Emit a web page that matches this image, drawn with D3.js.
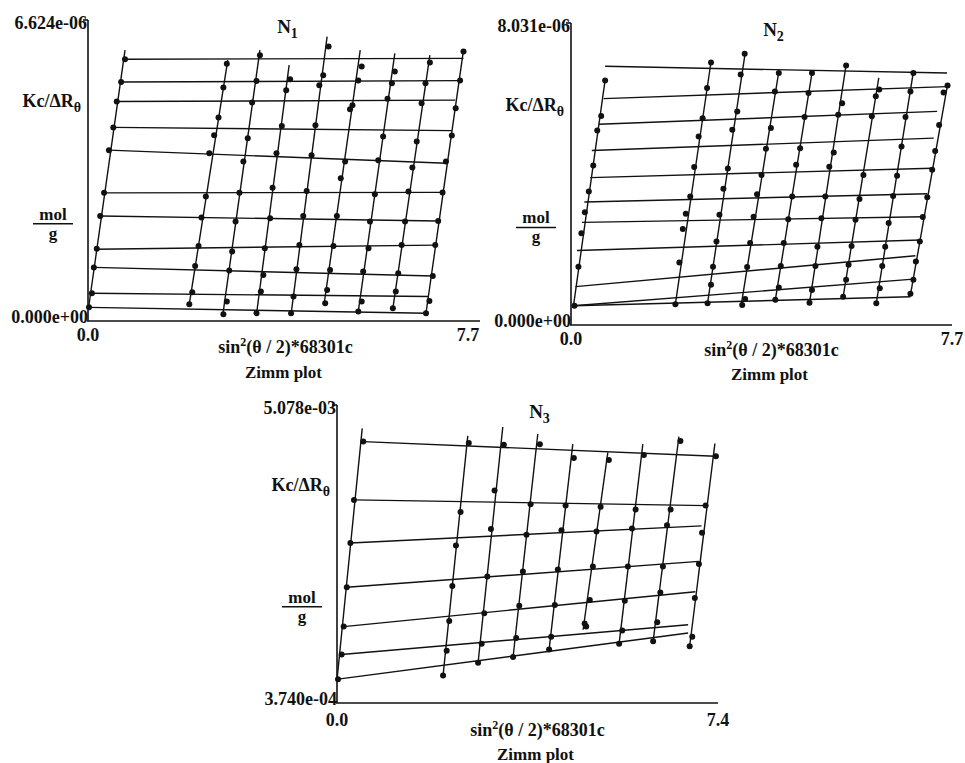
<!DOCTYPE html>
<html>
<head>
<meta charset="utf-8">
<script src="https://cdn.jsdelivr.net/npm/d3@7"></script>
<style>
  body { margin: 0; background: #fff; }
  svg text { font-family: "Liberation Serif", "Times New Roman", serif; font-weight: bold; fill: #111; }
</style>
</head>
<body>
<svg id="chart" width="965" height="763"></svg>
<script>
// ---- N1 (y in units of 1e-6 mol/g) ----
// fitted lines as [x1, y1, x2, y2]
const n1Rows = [
  [0.76, 5.76, 7.71, 5.78], [0.68, 5.26, 7.64, 5.29], [0.59, 4.83, 7.54, 4.86],
  [0.52, 4.26, 7.47, 4.19], [0.43, 3.76, 7.36, 3.47], [0.33, 2.82, 7.30, 2.83],
  [0.25, 2.31, 7.19, 2.20], [0.18, 1.58, 7.13, 1.67], [0.12, 1.18, 7.09, 0.99],
  [0.08, 0.61, 6.99, 0.54], [0.02, 0.30, 6.95, 0.17]
];
const n1Cols = [
  [0.01, 0.28, 0.76, 5.96], [2.08, 0.37, 2.87, 5.74], [2.77, 0.15, 3.53, 5.96],
  [3.46, 0.15, 4.13, 5.63], [4.17, 0.15, 4.91, 6.26], [4.85, 0.39, 5.59, 5.96],
  [5.55, 0.21, 6.30, 5.89], [6.26, 0.28, 7.02, 5.85], [6.94, 0.17, 7.71, 5.96]
];
const n1Points = [
  [0.76, 5.76], [2.85, 5.66], [3.53, 5.85], [4.94, 6.04], [5.62, 5.60], [6.30, 5.49], [7.02, 5.69], [7.71, 5.93],
  [4.83, 5.41], [4.15, 5.32],
  [0.68, 5.26], [2.78, 5.14], [3.46, 5.28], [4.07, 5.08], [4.75, 5.19], [5.55, 5.29], [6.24, 5.23], [6.93, 5.23], [7.64, 5.29],
  [0.59, 4.83], [2.68, 4.48], [3.37, 4.81], [5.43, 4.75], [5.38, 4.66], [6.15, 4.89], [6.85, 4.79], [7.55, 4.68],
  [0.52, 4.26], [2.59, 4.09], [3.28, 4.02], [3.98, 4.29], [4.67, 4.31], [6.06, 4.06], [6.75, 3.95], [7.47, 4.08],
  [0.43, 3.76], [2.49, 3.69], [3.19, 3.51], [3.87, 3.69], [4.59, 3.65], [5.28, 3.51], [5.96, 3.54], [6.66, 3.38], [7.35, 3.51],
  [5.19, 3.14],
  [0.33, 2.82], [2.42, 2.74], [3.11, 2.82], [3.79, 2.93], [4.49, 2.86], [5.89, 2.79], [6.58, 2.85], [7.28, 2.83],
  [0.25, 2.31], [2.33, 2.28], [3.03, 2.19], [3.74, 2.26], [4.42, 2.31], [5.11, 2.31], [5.79, 2.19], [6.51, 2.19], [7.19, 2.20],
  [0.18, 1.59], [2.27, 1.65], [2.96, 1.53], [3.63, 1.60], [4.34, 1.67], [5.04, 1.65], [5.76, 1.60], [6.44, 1.67], [7.13, 1.67],
  [0.12, 1.18], [2.20, 1.21], [2.90, 1.11], [3.60, 1.01], [4.28, 1.14], [4.97, 1.12], [5.65, 1.09], [6.37, 1.05], [7.08, 0.99],
  [0.08, 0.61], [2.14, 0.63], [2.85, 0.43], [3.55, 0.65], [4.22, 0.54], [4.91, 0.68], [5.62, 0.43], [6.32, 0.65], [7.01, 0.44],
  [0.02, 0.30], [2.08, 0.37], [2.78, 0.15], [3.46, 0.17], [4.17, 0.17], [4.87, 0.39], [5.55, 0.21], [6.26, 0.28], [6.94, 0.17]
];

// ---- N2 (y in units of 1e-6 mol/g) ----
const n2Rows = [
  [0.69, 6.88, 7.60, 6.70], [0.66, 6.02, 7.60, 6.34], [0.56, 5.34, 7.40, 5.68],
  [0.42, 4.64, 7.33, 4.97], [0.39, 3.92, 7.30, 4.17], [0.27, 3.27, 7.20, 3.49],
  [0.22, 2.73, 7.13, 2.88], [0.12, 1.98, 7.06, 2.26], [0.09, 1.02, 6.96, 1.84],
  [0.05, 0.51, 6.92, 1.22], [0.05, 0.51, 6.86, 0.75]
];
const n2Cols = [
  [0.05, 0.51, 0.69, 6.52], [2.11, 0.56, 2.83, 7.00], [2.76, 0.58, 3.52, 7.23],
  [3.44, 0.53, 4.20, 6.74], [4.13, 0.67, 4.87, 6.70], [4.82, 0.59, 5.56, 6.92],
  [5.50, 0.75, 6.22, 6.57], [6.17, 0.58, 6.92, 6.74], [6.86, 0.80, 7.61, 6.39]
];
const n2Points = [
  [0.69, 6.50], [0.61, 5.56], [0.53, 5.17], [0.45, 4.24], [0.36, 3.55], [0.28, 3.00], [0.21, 2.44], [0.15, 1.55], [0.07, 0.51],
  [2.83, 6.98], [2.75, 6.30], [2.66, 5.50], [2.58, 5.01], [2.49, 4.20], [2.41, 3.42], [2.32, 2.96], [2.26, 2.55], [2.19, 1.66], [2.11, 0.55],
  [3.51, 7.21], [3.43, 6.66], [3.36, 5.68], [3.26, 5.19], [3.17, 4.16], [3.08, 3.62], [3.00, 2.93], [2.94, 2.22], [2.87, 1.55], [2.83, 1.07], [2.76, 0.58],
  [4.20, 6.70], [4.12, 6.21], [4.04, 5.24], [3.94, 4.69], [3.85, 3.99], [3.76, 3.48], [3.69, 2.88], [3.62, 2.18], [3.56, 1.54], [3.52, 0.69], [3.46, 0.53],
  [4.87, 6.70], [4.80, 6.17], [4.72, 5.53], [4.63, 4.70], [4.55, 4.26], [4.47, 3.42], [4.39, 2.81], [4.30, 2.18], [4.24, 1.57], [4.20, 1.00], [4.13, 0.67],
  [5.56, 6.90], [5.48, 5.90], [5.40, 5.59], [5.31, 4.59], [5.22, 4.21], [5.14, 3.42], [5.06, 2.84], [4.98, 2.08], [4.94, 1.57], [4.87, 0.93], [4.82, 0.59],
  [6.23, 6.26], [6.16, 6.08], [6.08, 5.55], [5.91, 3.99], [5.83, 3.35], [5.75, 2.80], [5.67, 2.10], [5.61, 1.60], [5.56, 1.20], [5.50, 0.75],
  [6.92, 6.70], [6.86, 6.21], [6.76, 5.53], [6.68, 4.75], [6.59, 3.97], [6.51, 3.43], [6.42, 2.71], [6.35, 2.08], [6.29, 1.57], [6.24, 0.98], [6.17, 0.58],
  [7.61, 6.37], [7.53, 6.18], [7.44, 5.32], [7.36, 4.63], [7.30, 4.13], [7.20, 3.40], [7.11, 2.87], [7.05, 2.22], [6.97, 1.69], [6.92, 1.20], [6.86, 0.83]
];

// ---- N3 (y in units of 1e-3 mol/g) ----
const n3Rows = [
  [0.51, 4.50, 7.35, 4.27], [0.33, 3.58, 7.18, 3.49], [0.26, 2.90, 7.08, 3.17],
  [0.19, 2.20, 7.03, 2.61], [0.13, 1.58, 6.96, 2.13], [0.09, 1.14, 6.82, 1.61],
  [0.02, 0.75, 6.82, 1.48]
];
const n3Cols = [
  [0.00, 0.74, 0.49, 4.71], [2.06, 0.81, 2.54, 4.59], [2.74, 1.01, 3.22, 4.73],
  [3.42, 1.10, 3.90, 4.62], [4.12, 1.22, 4.58, 4.46], [4.78, 1.53, 5.26, 4.33],
  [5.48, 1.31, 5.94, 4.46], [6.14, 1.35, 6.64, 4.58], [6.85, 1.27, 7.34, 4.47]
];
const n3Points = [
  [0.51, 4.50], [0.33, 3.58], [0.26, 2.90], [0.19, 2.20], [0.13, 1.58], [0.09, 1.14], [0.02, 0.75],
  [2.56, 4.48], [2.40, 3.39], [2.31, 2.86], [2.24, 2.22], [2.18, 1.67], [2.13, 1.20], [2.06, 0.81],
  [3.24, 4.45], [3.06, 3.73], [2.99, 3.12], [2.92, 2.37], [2.86, 1.79], [2.81, 1.31], [2.74, 1.01],
  [3.94, 4.46], [3.76, 3.51], [3.68, 3.03], [3.61, 2.45], [3.54, 1.91], [3.48, 1.40], [3.42, 1.10],
  [4.60, 4.24], [4.44, 3.49], [4.36, 3.10], [4.29, 2.48], [4.23, 1.92], [4.16, 1.42], [4.12, 1.22],
  [5.28, 4.21], [5.12, 3.47], [5.04, 3.08], [4.97, 2.53], [4.91, 2.00], [4.81, 1.63], [4.84, 1.58],
  [5.96, 4.29], [5.80, 3.43], [5.73, 3.13], [5.65, 2.53], [5.59, 1.99], [5.54, 1.52], [5.48, 1.31],
  [6.67, 4.51], [6.48, 3.43], [6.41, 3.18], [6.33, 2.53], [6.28, 2.12], [6.22, 1.65], [6.14, 1.35],
  [7.36, 4.27], [7.16, 3.49], [7.09, 3.06], [7.03, 2.57], [6.95, 2.03], [6.90, 1.42], [6.85, 1.27]
];

const svg = d3.select('#chart');

const fmtExp = v => d3.format('.3e')(v).replace(/e([+-])(\d)$/, 'e$10$2');
const fmtX = d3.format('.1f');

const panels = [
  { name: 'N', sub: '1', rows: n1Rows, cols: n1Cols, points: n1Points, unit: 1e-6,
    xMax: 7.7, yDomain: [0, 6.624e-6],
    left: 88, top: 20, width: 375, height: 301, axisExtra: 17, endDx: 5,
    tickDy: 20, xTitleDy: 32, zimmDy: 57 },
  { name: 'N', sub: '2', rows: n2Rows, cols: n2Cols, points: n2Points, unit: 1e-6,
    xMax: 7.7, yDomain: [0, 8.031e-6],
    left: 571, top: 23, width: 381, height: 302, axisExtra: 0, endDx: 0,
    tickDy: 20, xTitleDy: 31, zimmDy: 55 },
  { name: 'N', sub: '3', rows: n3Rows, cols: n3Cols, points: n3Points, unit: 1e-3,
    xMax: 7.4, yDomain: [3.740e-4, 5.078e-3],
    left: 337, top: 405, width: 381, height: 298, axisExtra: 0, endDx: 0,
    tickDy: 23, xTitleDy: 33, zimmDy: 57 }
];

function drawZimm(p) {
  const g = svg.append('g').attr('transform', `translate(${p.left},${p.top})`);
  const x = d3.scaleLinear().domain([0, p.xMax]).range([0, p.width]);
  const y = d3.scaleLinear().domain(p.yDomain).range([p.height, 0]);
  const u = p.unit;

  // fitted lines of the Zimm grid
  g.selectAll('line.fit')
    .data(p.rows.concat(p.cols))
    .join('line')
    .attr('class', 'fit')
    .attr('x1', d => x(d[0])).attr('y1', d => y(d[1] * u))
    .attr('x2', d => x(d[2])).attr('y2', d => y(d[3] * u))
    .attr('stroke', '#111')
    .attr('stroke-width', 1.4);

  // measured points
  g.selectAll('circle')
    .data(p.points)
    .join('circle')
    .attr('cx', d => x(d[0]))
    .attr('cy', d => y(d[1] * u))
    .attr('r', 3)
    .attr('fill', '#111');

  // axes
  g.append('line').attr('x1', 0).attr('x2', 0).attr('y1', 0).attr('y2', p.height)
    .attr('stroke', '#111').attr('stroke-width', 1.6);
  g.append('line').attr('x1', -1).attr('x2', p.width + p.axisExtra)
    .attr('y1', p.height).attr('y2', p.height)
    .attr('stroke', '#111').attr('stroke-width', 1.6);
  g.append('line').attr('x1', -5).attr('x2', 0).attr('y1', 0).attr('y2', 0)
    .attr('stroke', '#111').attr('stroke-width', 1.6);

  // y extremes
  g.append('text').attr('x', -1).attr('y', 9).attr('text-anchor', 'end')
    .style('font-size', '18px').text(fmtExp(p.yDomain[1]));
  g.append('text').attr('x', 0).attr('y', p.height + 2).attr('text-anchor', 'end')
    .style('font-size', '18px').text(fmtExp(p.yDomain[0]));

  // x extremes
  g.append('text').attr('x', x(0)).attr('y', p.height + p.tickDy).attr('text-anchor', 'middle')
    .style('font-size', '18px').text(fmtX(0));
  g.append('text').attr('x', x(p.xMax) + p.endDx).attr('y', p.height + p.tickDy).attr('text-anchor', 'middle')
    .style('font-size', '18px').text(fmtX(p.xMax));

  // title
  const t = g.append('text').attr('x', p.width / 2 + 12).attr('y', 13).attr('text-anchor', 'middle')
    .style('font-size', '19px');
  t.append('tspan').text(p.name);
  t.append('tspan').attr('dy', 5).style('font-size', '14px').text(p.sub);

  // y-axis label
  const k = g.append('text').attr('x', -7).attr('y', p.height * 0.29).attr('text-anchor', 'end')
    .style('font-size', '18px');
  k.append('tspan').text('Kc/ΔR');
  k.append('tspan').attr('dy', 5).style('font-size', '14px').text('θ');

  const mx = -35, my = p.height * 0.667;
  g.append('text').attr('x', mx).attr('y', my - 1).attr('text-anchor', 'middle')
    .style('font-size', '17px').text('mol');
  g.append('line').attr('x1', mx - 20).attr('x2', mx + 20).attr('y1', my + 3).attr('y2', my + 3)
    .attr('stroke', '#111').attr('stroke-width', 1.5);
  g.append('text').attr('x', mx).attr('y', my + 18).attr('text-anchor', 'middle')
    .style('font-size', '17px').text('g');

  // x-axis label
  const s = g.append('text').attr('x', p.width / 2 + 10).attr('y', p.height + p.xTitleDy)
    .attr('text-anchor', 'middle').style('font-size', '18px');
  s.append('tspan').text('sin');
  s.append('tspan').attr('dy', -7).style('font-size', '12px').text('2');
  s.append('tspan').attr('dy', 7).text('(θ / 2)*68301c');

  g.append('text').attr('x', p.width / 2 + 8).attr('y', p.height + p.zimmDy)
    .attr('text-anchor', 'middle').style('font-size', '17px').text('Zimm plot');
}

panels.forEach(drawZimm);
</script>
</body>
</html>
